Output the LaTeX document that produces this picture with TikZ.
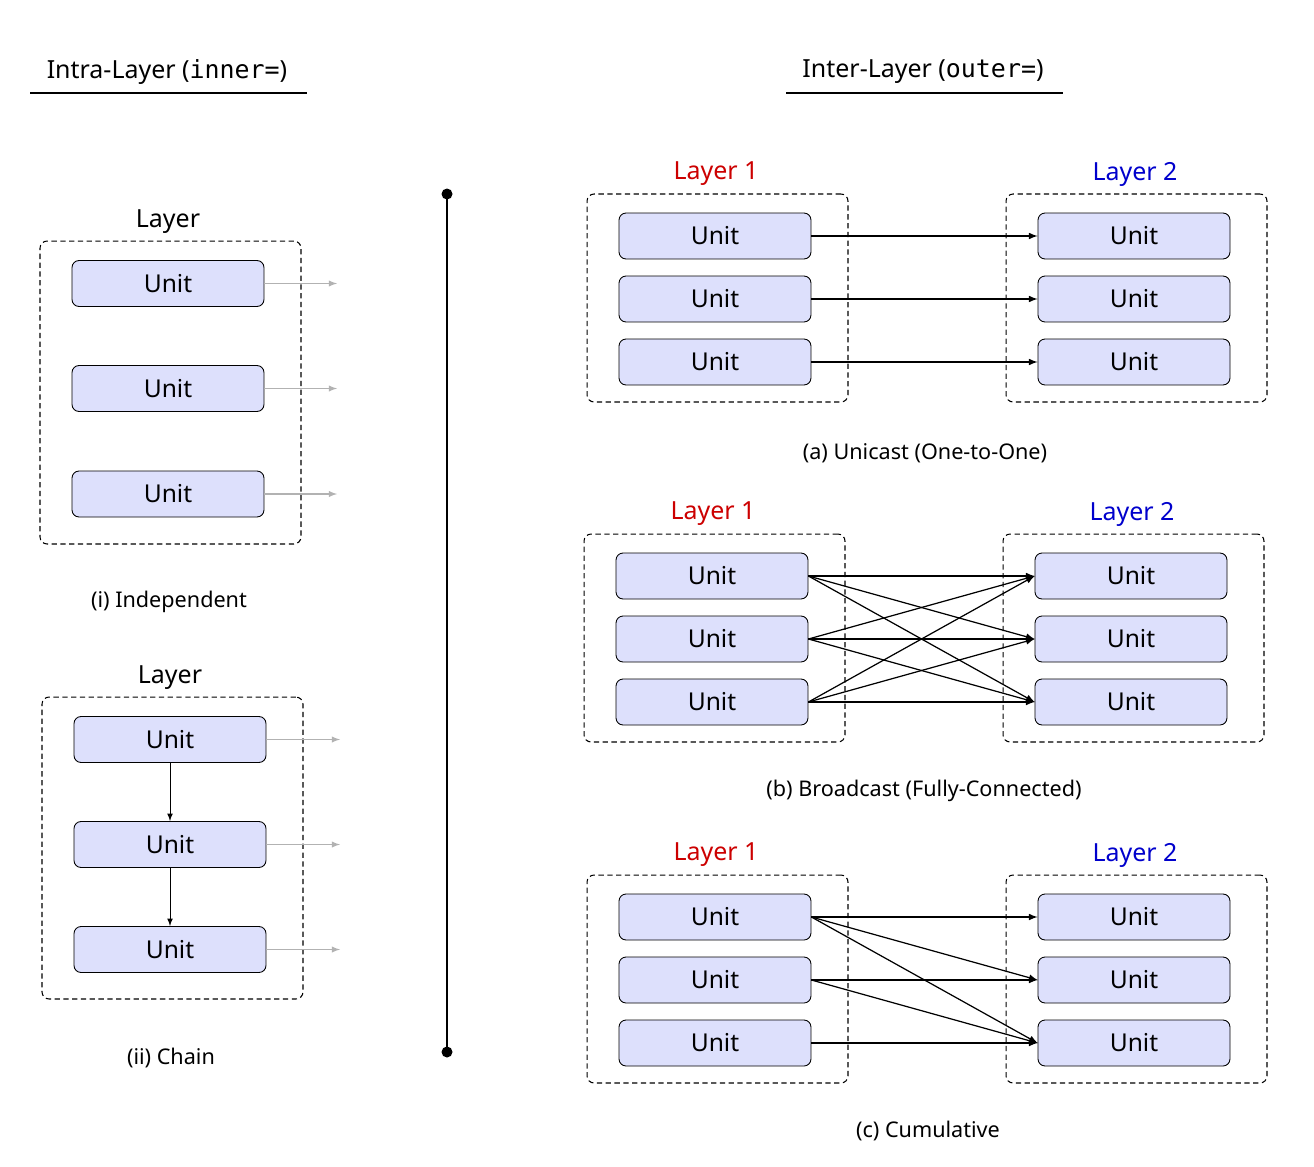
\documentclass[tikz,border=0pt]{standalone}
\usepackage{fontspec}
\setmainfont{Noto Sans}
\setmonofont{DejaVu Sans Mono}
\usepackage{xcolor}
\usetikzlibrary{positioning}

\definecolor{unitfill}{RGB}{221,224,252}
\definecolor{layerred}{RGB}{204,0,0}
\definecolor{layerblue}{RGB}{0,0,204}

\tikzset{
  unit/.style={draw, rounded corners=4pt, fill=unitfill, line width=0.5pt,
    minimum width=3.84cm, minimum height=0.92cm, inner sep=0pt,
    font=\fontsize{14}{16}\selectfont},
  layerbox/.style={draw, dash pattern=on 3pt off 2pt, rounded corners=4pt,
    line width=0.6pt, minimum width=5.22cm, inner sep=0pt},
  title/.style={font=\fontsize{14.2}{17}\selectfont},
  caption/.style={font=\fontsize{12.3}{15}\selectfont},
  flow/.style={-latex, line width=0.7pt},
  outflow/.style={-latex, line width=0.6pt, gray!60},
}

\begin{document}
\begin{tikzpicture}[x=0.02cm, y=-0.02cm]
\useasboundingbox (0,0) rectangle (1314,1166);
% headings
\node[title] (intra) at (167,72) {Intra-Layer (\texttt{inner=})};
\node[title] (inter) at (923,72) {Inter-Layer (\texttt{outer=})};
\draw[line width=1.1pt] (30,93) -- (307,93);
\draw[line width=1.1pt] (786,93) -- (1063,93);
% divider
\coordinate (top) at (447,194);
\coordinate (bot) at (447,1052);
\draw[line width=1.1pt] (top) -- (bot);
\fill (top) circle (5.5);
\fill (bot) circle (5.5);

% (i) independent
\node[layerbox, minimum height=6.06cm] (ibox) at (170.5,392.5) {};
\node[title] (ilayer) at (168,222) {Layer};
\node[unit] (i1) at (168,283.5) {Unit};
\node[unit] (i2) at (168,388.5) {Unit};
\node[unit] (i3) at (168,494) {Unit};
\foreach \n in {1,2,3} {
  \coordinate (iend\n) at (337,0 |- i\n.east);
  \draw[outflow] (i\n.east) -- (iend\n);
}
\node[caption] (icap) at (169,602) {(i) Independent};

% (ii) chain
\node[layerbox, minimum height=6.04cm] (cbox) at (172.5,848) {};
\node[title] (clayer) at (170,678) {Layer};
\node[unit] (c1) at (170,739.5) {Unit};
\node[unit] (c2) at (170,844.5) {Unit};
\node[unit] (c3) at (170,949.5) {Unit};
\draw[flow, line width=0.5pt] (c1) -- (c2);
\draw[flow, line width=0.5pt] (c2) -- (c3);
\foreach \n in {1,2,3} {
  \coordinate (cend\n) at (340,0 |- c\n.east);
  \draw[outflow] (c\n.east) -- (cend\n);
}
\node[caption] (ccap) at (171,1058) {(ii) Chain};

% inter-layer panels
\foreach \p/\dx/\dy in {a/0/0, b/-3/340, c/0/681} {
  \node[layerbox, minimum height=4.16cm] (\p-box1) at (717.5+\dx,298+\dy) {};
  \node[layerbox, minimum height=4.16cm] (\p-box2) at (1136.5+\dx,298+\dy) {};
  \node[title, layerred] (\p-name1) at (716+\dx,174+\dy) {Layer 1};
  \node[title, layerblue] (\p-name2) at (1135+\dx,174+\dy) {Layer 2};
  \foreach \i/\y in {1/236, 2/299, 3/362} {
    \node[unit] (\p-l\i) at (715+\dx,\y+\dy) {Unit};
    \node[unit] (\p-r\i) at (1134+\dx,\y+\dy) {Unit};
  }
}

% (a) unicast
\foreach \i in {1,2,3}
  \draw[flow] (a-l\i.east) -- (a-r\i.west);
\node[caption] (acap) at (925,453) {(a) Unicast (One-to-One)};

% (b) broadcast
\foreach \i in {1,2,3}
  \foreach \j in {1,2,3}
    \draw[flow] (b-l\i.east) -- (b-r\j.west);
\node[caption] (bcap) at (924,791) {(b) Broadcast (Fully-Connected)};

% (c) cumulative
\foreach \i/\j in {1/1, 1/2, 1/3, 2/2, 2/3, 3/3}
  \draw[flow] (c-l\i.east) -- (c-r\j.west);
\node[caption] (ccap2) at (928,1131) {(c) Cumulative};
\end{tikzpicture}
\end{document}
